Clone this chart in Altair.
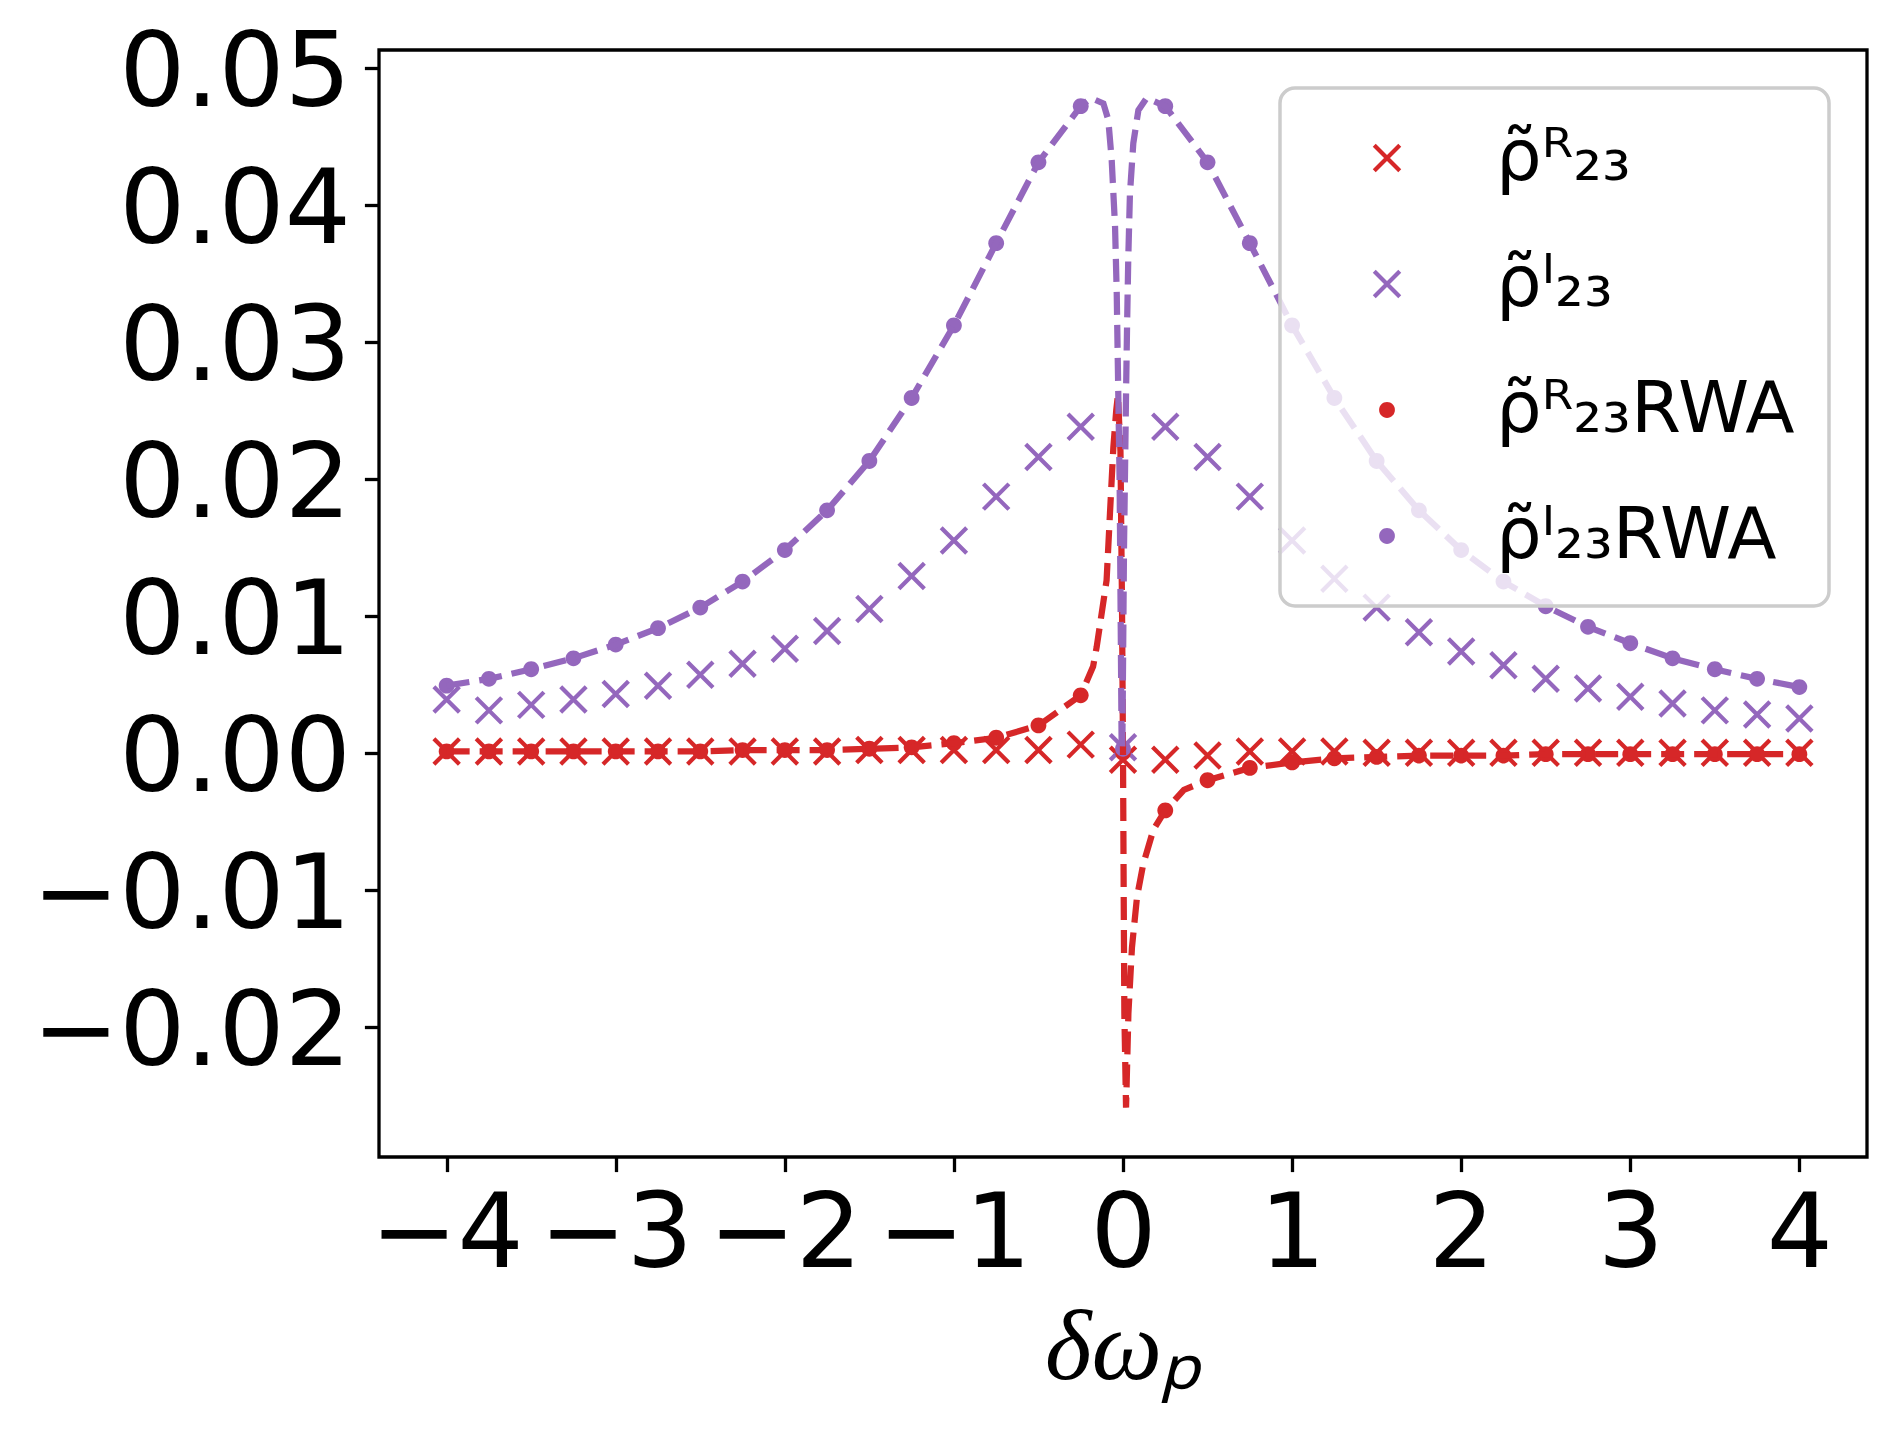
import altair as alt
import pandas as pd

RED = "#d62728"
PURPLE = "#9467bd"

# sample grid of the markers (delta omega_p)
grid_x = [-4.0, -3.75, -3.5, -3.25, -3.0, -2.75, -2.5, -2.25, -2.0, -1.75, -1.5,
          -1.25, -1.0, -0.75, -0.5, -0.25, 0.0, 0.25, 0.5, 0.75, 1.0, 1.25, 1.5,
          1.75, 2.0, 2.25, 2.5, 2.75, 3.0, 3.25, 3.5, 3.75, 4.0]

# crosses (full solution)
rho_R = [0.0001, 0.0001, 0.0001, 0.0001, 0.0001, 0.0001, 0.0001, 0.0001, 0.0001,
         0.0001, 0.0002, 0.0002, 0.0002, 0.0002, 0.0002, 0.0006, -0.0005, -0.0005,
         -0.0002, 0.0001, 0.0001, 0.0001, 0.0, 0.0, 0.0, 0.0, 0.0, 0.0, 0.0, 0.0,
         0.0, 0.0, 0.0]
rho_I = [0.0039, 0.0031, 0.0035, 0.0039, 0.0043, 0.0049, 0.0057, 0.0065, 0.0076,
         0.0089, 0.0105, 0.0129, 0.0155, 0.0187, 0.0216, 0.0238, 0.0004, 0.0238,
         0.0216, 0.0187, 0.0155, 0.0127, 0.0106, 0.0088, 0.0074, 0.0064, 0.0054,
         0.0047, 0.0041, 0.0036, 0.0031, 0.0028, 0.0025]

# dots (RWA)
rwa_R = [0.0001, 0.0001, 0.0001, 0.0001, 0.0001, 0.0001, 0.0001, 0.0002, 0.0002,
         0.0002, 0.0003, 0.0004, 0.0007, 0.0011, 0.0020, 0.0042, 0.0, -0.0042,
         -0.0020, -0.0011, -0.0007, -0.0004, -0.0003, -0.0002, -0.0002, -0.0002,
         -0.0001, -0.0001, -0.0001, -0.0001, -0.0001, -0.0001, -0.0001]
rwa_I = [0.0049, 0.0054, 0.0061, 0.0069, 0.0079, 0.0091, 0.0106, 0.0125, 0.0148,
         0.0177, 0.0213, 0.0259, 0.0312, 0.0372, 0.0431, 0.0472, 0.0003, 0.0472,
         0.0431, 0.0372, 0.0312, 0.0259, 0.0213, 0.0177, 0.0148, 0.0125, 0.0107,
         0.0092, 0.0080, 0.0069, 0.0061, 0.0054, 0.0048]

# extra points of the dashed curves read near resonance
red_center_x = [-0.177, -0.156, -0.097, -0.077, -0.057, -0.04, -0.03, -0.015,
                -0.006, 0.0, 0.004, 0.008, 0.018, 0.032, 0.053, 0.083, 0.12,
                0.18, 0.36]
red_center_y = [0.0063, 0.0077, 0.0126, 0.0175, 0.0223, 0.0250, 0.0261, 0.0220,
                0.0110, 0.0, -0.0100, -0.0190, -0.0259, -0.0190, -0.0142, -0.0105,
                -0.0081, -0.0056, -0.0027]
purple_center_x = [-0.19, -0.116, -0.087, -0.067, -0.047, -0.037, -0.031, -0.02,
                   -0.014, -0.008, -0.004, 0.006, 0.018, 0.024, 0.031, 0.041,
                   0.061, 0.091, 0.14]
purple_center_y = [0.0478, 0.0474, 0.0462, 0.0433, 0.0384, 0.0335, 0.0287, 0.0199,
                   0.0102, 0.0004, 0.0002, 0.0150, 0.0262, 0.0311, 0.0360, 0.0408,
                   0.0445, 0.0469, 0.0478]

x_ticks = [-4, -3, -2, -1, 0, 1, 2, 3, 4]
y_ticks = [-0.02, -0.01, 0.0, 0.01, 0.02, 0.03, 0.04, 0.05]

series = ["ρ̃ᴿ₂₃", "ρ̃ᴵ₂₃", "ρ̃ᴿ₂₃RWA", "ρ̃ᴵ₂₃RWA"]

XPATH = "M-1,-1L1,1M-1,1L1,-1"
CPATH = "M0.62,0A0.62,0.62 0 1,1 -0.62,0A0.62,0.62 0 1,1 0.62,0Z"

rows = []
for name, vals in zip(series, [rho_R, rho_I, rwa_R, rwa_I]):
    for xv, yv in zip(grid_x, vals):
        rows.append({"x": xv, "y": yv, "series": name})
pts = pd.DataFrame(rows)


def curve(vals, cx, cy):
    xs = [xv for xv in grid_x if xv != 0.0] + cx
    ys = [yv for xv, yv in zip(grid_x, vals) if xv != 0.0] + cy
    return pd.DataFrame({"x": xs, "y": ys}).sort_values("x")


red_df = curve(rwa_R, red_center_x, red_center_y)
purple_df = curve(rwa_I, purple_center_x, purple_center_y)

xscale = alt.Scale(domain=[-4.4, 4.4], nice=False, zero=False)
yscale = alt.Scale(domain=[-0.0295, 0.0513], nice=False, zero=False)
x_enc = alt.X("x:Q", scale=xscale,
              axis=alt.Axis(values=x_ticks, format="d", title="δωₚ",
                            labelFlush=False, labelOverlap=False))
y_enc = alt.Y("y:Q", scale=yscale,
              axis=alt.Axis(values=y_ticks, format=".2f", title=None,
                            labelFlush=False, labelOverlap=False))

leg = alt.Legend(title=None, orient="top-right", offset=38, padding=34,
                 symbolOffset=37, labelOffset=73, rowPadding=54,
                 labelFontSize=72, labelFont="DejaVu Sans", labelColor="black",
                 symbolSize=650, symbolStrokeWidth=4.2, strokeColor="#cccccc",
                 fillColor="rgba(255,255,255,0.8)", cornerRadius=15,
                 labelLimit=1000)

points = alt.Chart(pts).mark_point(filled=True, size=650, strokeWidth=4.2,
                                   opacity=1).encode(
    x=x_enc,
    y=y_enc,
    color=alt.Color("series:N", sort=series,
                    scale=alt.Scale(domain=series, range=[RED, PURPLE, RED, PURPLE]),
                    legend=leg),
    stroke=alt.Stroke("series:N", sort=series,
                      scale=alt.Scale(domain=series,
                                      range=[RED, PURPLE, "transparent", "transparent"]),
                      legend=leg),
    shape=alt.Shape("series:N", sort=series,
                    scale=alt.Scale(domain=series, range=[XPATH, XPATH, CPATH, CPATH]),
                    legend=leg),
)

red_line = alt.Chart(red_df).mark_line(color=RED, strokeWidth=6.25,
                                       strokeDash=[23, 10]).encode(x=x_enc, y=y_enc)
purple_line = alt.Chart(purple_df).mark_line(color=PURPLE, strokeWidth=6.25,
                                             strokeDash=[23, 10]).encode(x=x_enc, y=y_enc)

chart = alt.layer(points, red_line, purple_line).properties(
    width=1488, height=1107,
    padding={"left": 371, "top": 42, "right": 10, "bottom": 275},
    autosize=alt.AutoSizeParams(type="none"),
    background="white",
).configure_view(
    stroke="black", strokeWidth=3.3
).configure_axis(
    domain=False, grid=False, tickColor="black", tickWidth=3.3, tickSize=14.6,
    labelFont="DejaVu Sans", labelFontSize=104, labelColor="black",
    labelLimit=600,
).configure_axisX(
    labelPadding=13, titleFont="Liberation Serif", titleFontStyle="italic",
    titleFontSize=100, titleFontWeight="normal", titleColor="black",
    titlePadding=12,
).configure_axisY(
    labelPadding=14, labelBaseline="alphabetic", labelOffset=38,
).configure_legend(
    strokeWidth=3.5
)

chart.save("out.html", embed_options={"renderer": "svg", "actions": False})
